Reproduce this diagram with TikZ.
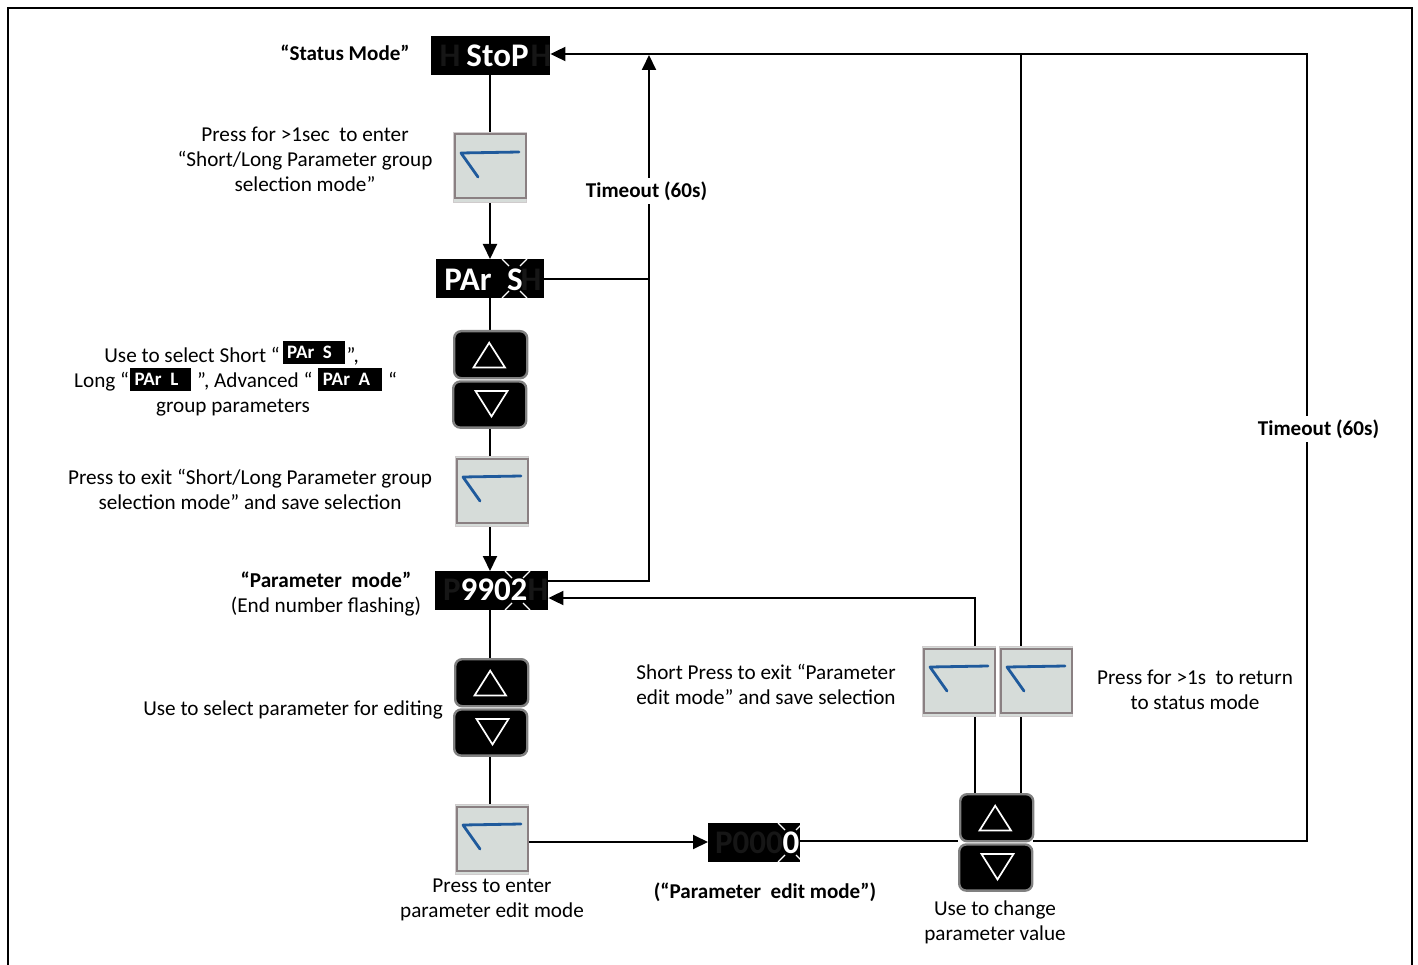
\documentclass[tikz,border=0pt]{standalone}
\usepackage{fontspec}
\setmainfont{Carlito}
\usetikzlibrary{arrows.meta,backgrounds,calc}
\definecolor{keyface}{HTML}{D6DCD9}
\definecolor{keyedge}{HTML}{8A8082}
\definecolor{keyrim}{HTML}{CFCBCC}
\definecolor{keyblue}{HTML}{1F5A9C}
\definecolor{ghost}{HTML}{161616}
\definecolor{padedge}{HTML}{808080}
\tikzset{
  wire/.style={draw=black,line width=1.9pt},
  arrowwire/.style={wire,-{Triangle[length=15pt,width=14pt]}},
  lbl/.style={font=\fontsize{21.2}{25}\selectfont,align=center,inner sep=0pt,text=black},
  blbl/.style={lbl,font=\fontsize{21.1}{25}\selectfont\bfseries},
  tmo/.style={blbl,fill=white,inner xsep=1pt,inner ysep=4pt},
  disp/.style={fill=black,draw=none,inner sep=0pt},
  dtxt/.style={text=white,font=\fontsize{33}{33}\selectfont\bfseries,inner sep=0pt,anchor=base},
  gtxt/.style={dtxt,text=ghost},
  mini/.style={text=white,font=\fontsize{19}{19}\selectfont\bfseries,inner sep=0pt,anchor=base},
  flick/.style={draw=white,line width=1.1pt},
  keybox/.style={fill=keyface,draw=keyrim,line width=.8pt,inner sep=0pt},
  padbox/.style={fill=black,draw=padedge,line width=2.4pt,rounded corners=7pt,inner sep=0pt},
  tri/.style={draw=white,line width=1.7pt,line join=miter}
}
\newcommand{\dispbox}[5]{\node[disp,minimum width=#4pt,minimum height=#5pt,anchor=north west] (#1) at (#2,#3) {};}
\newcommand{\keypad}[3]{%
  \node[keybox,minimum width=73pt,minimum height=70pt,anchor=north west] (#1) at ($(#2,#3)+(-.8,0)$) {};
  \draw[keyedge,line width=2pt] ($(#2,#3)+(1,2.5)$) rectangle ($(#2,#3)+(71.5,66.5)$);
  \draw[keyblue,line width=2.8pt,line cap=round,line join=round] ($(#2,#3)+(65,20)$) -- ($(#2,#3)+(7,21)$) -- ($(#2,#3)+(24,45)$);
}
\newcommand{\updown}[3]{%
  \node[padbox,minimum width=73pt,minimum height=47pt,anchor=north west] (#1u) at ($(#2,#3)+(1,0)$) {};
  \node[padbox,minimum width=73pt,minimum height=46.1pt,anchor=north west] (#1d) at ($(#2,#3)+(0,50.3)$) {};
  \draw[tri] ($(#2,#3)+(21.5,37.5)$) -- ($(#2,#3)+(53,37.5)$) -- ($(#2,#3)+(37.2,12.7)$) -- cycle;
  \draw[tri] ($(#2,#3)+(23.5,61)$) -- ($(#2,#3)+(55.5,61)$) -- ($(#2,#3)+(39.5,86.5)$) -- cycle;
}
\newcommand{\flash}[3]{%
  \draw[flick] ($(#1,#2)+(-13,0)$) -- ($(#1,#2)+(-6,7)$);
  \draw[flick] ($(#1,#2)+(12,0)$) -- ($(#1,#2)+(5,7)$);
  \draw[flick] ($(#1,#3)+(-13,0)$) -- ($(#1,#3)+(-6,-7)$);
  \draw[flick] ($(#1,#3)+(12,0)$) -- ($(#1,#3)+(5,-7)$);
}
\begin{document}
\begin{tikzpicture}[x=1pt,y=-1pt]
\useasboundingbox (0,0) rectangle (1418,965);
\draw[black,line width=1.5pt] (8,966) -- (8,8) -- (1412,8) -- (1412,966);

\dispbox{stop}{431}{36}{119}{39}
\node[gtxt] (stopa) at (450,67) {H};
\node[gtxt] (stopb) at (541,67) {H};
\node[dtxt] (stopt) at (497.5,67) {StoP};

\dispbox{par}{436}{259}{108}{39}
\node[gtxt] (para) at (531,290.5) {H};
\node[dtxt] (part) at (468,290.5) {PAr};
\node[dtxt] (pars) at (515,290.5) {S};
\flash{515}{259}{298}

\dispbox{parm}{435}{571}{113}{39}
\node[gtxt] (parma) at (452,600.5) {P};
\node[gtxt] (parmb) at (538,600.5) {H};
\node[dtxt] (parmt) at (494,600.5) {9902};
\flash{518}{571}{610}

\dispbox{edit}{708}{823}{92}{39}
\node[gtxt] (editg) at (749,853) {P000};
\node[dtxt] (editt) at (791,853) {0};
\flash{791}{823}{862}

\keypad{keya}{454}{132}
\keypad{keyb}{456}{456}
\keypad{keyc}{456}{804}
\keypad{keyd}{923}{646}
\keypad{keye}{1000}{646}
\updown{pa}{452}{330}
\updown{pb}{453}{658}
\updown{pc}{958}{793}

\coordinate (tr) at (1307,54);
\coordinate (br) at (1307,841);
\coordinate (tm) at (649,55);
\coordinate (jm) at (649,279);
\coordinate (lm) at (649,581);
\coordinate (ex) at (975,598);
\coordinate (rt) at (1021,54);
\coordinate (xa) at (490,0);
\coordinate (xb) at (975,0);
\coordinate (xc) at (1021,0);
\coordinate (ym) at (0,842);
\coordinate (yn) at (0,841);

\begin{scope}[on background layer]
\draw[wire] (stop.south -| xa) -- (keya.north -| xa);
\draw[arrowwire] (keya.south -| xa) -- (par.north -| xa);
\draw[wire] (par.south -| xa) -- (pau.north -| xa);
\draw[wire] (pad.south -| xa) -- (keyb.north -| xa);
\draw[arrowwire] (keyb.south -| xa) -- (parm.north -| xa);
\draw[wire] (parm.south -| xa) -- (pbu.north -| xa);
\draw[wire] (pbd.south -| xa) -- (keyc.north -| xa);
\draw[arrowwire] (keyc.east |- ym) -- (edit.west |- ym);
\draw[wire] (edit.east |- yn) -- (pcd.west |- yn);
\draw[arrowwire] (pcd.east |- yn) -- (br) -- (tr) -- (stop.east |- tr);
\draw[arrowwire] (par.east |- jm) -- (jm) -- (tm);
\draw[wire] (parm.east |- lm) -- (lm) -- (jm);
\draw[wire] (pcu.north -| xb) -- (keyd.south -| xb);
\draw[arrowwire] (keyd.north -| xb) -- (ex) -- (parm.east |- ex);
\draw[wire] (pcu.north -| xc) -- (keye.south -| xc);
\draw[wire] (keye.north -| xc) -- (rt);
\end{scope}

\node[tmo] (tmoa) at (646.5,191) {Timeout (60s)};
\node[tmo] (tmob) at (1318.5,429) {Timeout (60s)};

\node[blbl] (t1) at (345,52.5) {“Status Mode”};
\node[lbl] (t2) at (305,159.5) {Press for >1sec~ to enter\\“Short/Long Parameter group\\selection mode”};
\node[lbl,anchor=base east] (t3a) at (280,362) {Use to select Short “};
\dispbox{ma}{283}{341}{62}{23}
\node[mini] (maa) at (309.5,358) {PAr~ S};
\node[lbl,anchor=base west] (t3b) at (346.5,362) {”,};
\node[lbl,anchor=base west] (t3c) at (74,387) {Long “};
\dispbox{mb}{130}{368}{61}{23}
\node[mini] (mbb) at (156.5,385) {PAr~ L};
\node[lbl,anchor=base west] (t3d) at (197,387) {”, Advanced “};
\dispbox{mc}{318}{368}{64}{23}
\node[mini] (mcc) at (346.5,385) {PAr~ A};
\node[lbl,anchor=base west] (t3e) at (388,387) {“};
\node[lbl] (t3f) at (233,408) {group parameters};
\node[lbl] (t4) at (250,489) {Press to exit “Short/Long Parameter group\\selection mode” and save selection};
\node[lbl] (t5) at (326,593.5) {\textbf{“Parameter~ mode”}\\(End number flashing)};
\node[lbl] (t6) at (293,710) {Use to select parameter for editing};
\node[lbl] (t7) at (492,900) {Press to enter\\parameter edit mode};
\node[blbl] (t8) at (765,892) {(“Parameter~ edit mode”)};
\node[lbl] (t9) at (995,922) {Use to change\\parameter value};
\node[lbl] (t10) at (766,684) {Short Press to exit “Parameter\\edit mode” and save selection};
\node[lbl] (t11) at (1195,689.5) {Press for >1s~ to return\\to status mode};
\end{tikzpicture}
\end{document}
